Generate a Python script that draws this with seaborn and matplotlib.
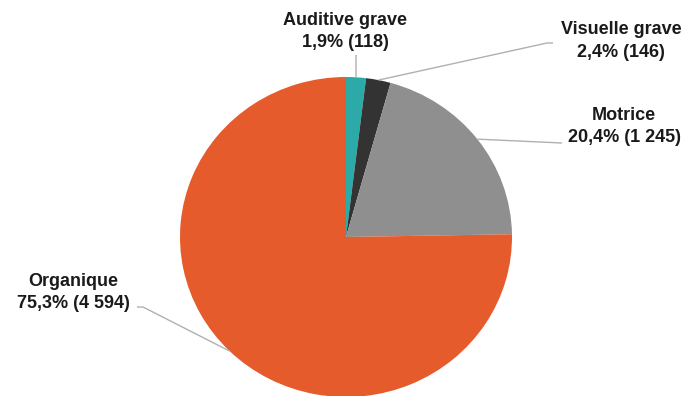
import numpy as np
import matplotlib
matplotlib.use("Agg")
import matplotlib.pyplot as plt
import seaborn as sns

categories = ["Auditive grave", "Visuelle grave", "Motrice", "Organique"]
values = [118, 146, 1245, 4594]
pct_labels = ["1,9%", "2,4%", "20,4%", "75,3%"]
count_labels = ["118", "146", "1 245", "4 594"]
colors = ["#2BAAA8", "#333333", "#8F8F8F", "#E55B2B"]

sns.set_theme(style="white")
plt.rcParams['font.family'] = ['Liberation Sans', 'DejaVu Sans']

W, H = 687, 396
fig = plt.figure(figsize=(W / 100, H / 100), dpi=100)
ax = fig.add_axes([0, 0, 1, 1])
ax.set_axis_off()

# slight vertical squash, as in the reference (rx 166 px, ry 160 px)
k = 166 / 160
def Y(py):
    return (H - py) * k

cx, cy, r = 346, Y(237), 166
wedges, _ = ax.pie(values, colors=colors, startangle=90, counterclock=False,
                   center=(cx, cy), radius=r, frame=False,
                   wedgeprops=dict(linewidth=0))
ax.set_aspect('auto')
ax.set_xlim(0, W)
ax.set_ylim(0, H * k)

# label layout: (text x, text y (pixel from top, center of block), elbow points (px))
layout = [
    (345, 31.5, [(356, 55)]),
    (621, 41, [(547, 43), (553, 43)]),
    (624, 126.5, [(562, 143)]),
    (73, 292.5, [(143, 307), (137, 307)]),
]

for w, cat, p, c, (tx, ty, pts) in zip(wedges, categories, pct_labels, count_labels, layout):
    ang = np.deg2rad((w.theta1 + w.theta2) / 2)
    sx = cx + r * np.cos(ang)
    sy = cy + r * np.sin(ang)
    xs = [sx] + [q[0] for q in pts]
    ys = [sy] + [Y(q[1]) for q in pts]
    ax.plot(xs, ys, color="#B0B0B0", lw=1.0, solid_capstyle="butt")
    ax.text(tx, Y(ty), f"{cat}\n{p} ({c})", ha="center", va="center",
            fontsize=13, fontweight="bold", color="#1a1a1a", linespacing=1.4)

fig.savefig("out.png", dpi=100)
